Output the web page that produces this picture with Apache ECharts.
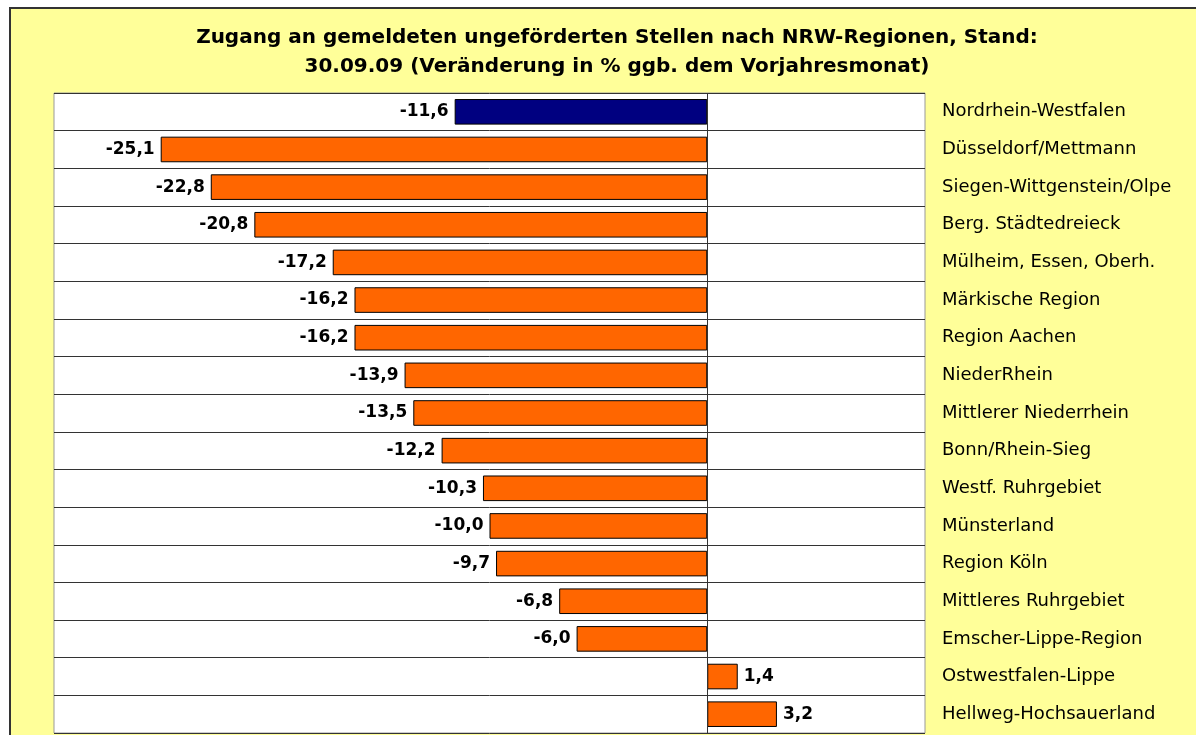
<!DOCTYPE html>
<html>
<head>
<meta charset="utf-8">
<script src="https://cdn.jsdelivr.net/npm/echarts@6/dist/echarts.min.js"></script>
<style>
    html, body { margin: 0; padding: 0; background: #fff; }
    #chart { width: 1196px; height: 735px; }
</style>
</head>
<body>
<div id="chart"></div>
<script>
// Regionen (von oben nach unten)
const regions = [
    'Nordrhein-Westfalen',
    'Düsseldorf/Mettmann',
    'Siegen-Wittgenstein/Olpe',
    'Berg. Städtedreieck',
    'Mülheim, Essen, Oberh.',
    'Märkische Region',
    'Region Aachen',
    'NiederRhein',
    'Mittlerer Niederrhein',
    'Bonn/Rhein-Sieg',
    'Westf. Ruhrgebiet',
    'Münsterland',
    'Region Köln',
    'Mittleres Ruhrgebiet',
    'Emscher-Lippe-Region',
    'Ostwestfalen-Lippe',
    'Hellweg-Hochsauerland'
];

// Veränderung in % ggb. Vorjahresmonat
const changes = [-11.6, -25.1, -22.8, -20.8, -17.2, -16.2, -16.2, -13.9, -13.5,
    -12.2, -10.3, -10.0, -9.7, -6.8, -6.0, 1.4, 3.2];

const titleText = 'Zugang an gemeldeten ungeförderten Stellen nach NRW-Regionen, Stand:\n30.09.09 (Veränderung in % ggb. dem Vorjahresmonat)';

const FONT = 'DejaVu Sans';

const chart = echarts.init(document.getElementById('chart'));

const barData = changes.map((v, i) => ({
    value: v,
    itemStyle: { color: i === 0 ? '#000080' : '#FF6600' },
    label: { position: v < 0 ? 'left' : 'right' }
}));

chart.setOption({
    backgroundColor: '#fff',
    animation: false,
    graphic: [{
        type: 'rect',
        z: -10,
        shape: { x: 10, y: 8, width: 1200, height: 740 },
        style: { fill: '#FFFF99', stroke: '#333', lineWidth: 2 }
    }],
    title: {
        text: titleText,
        left: 612,
        textAlign: 'center',
        top: 18,
        textStyle: {
            fontFamily: FONT,
            fontSize: 20,
            fontWeight: 'bold',
            color: '#000',
            lineHeight: 29
        }
    },
    grid: {
        left: 54,
        right: 271,
        top: 93,
        bottom: 2,
        show: true,
        backgroundColor: '#fff',
        borderColor: '#999',
        borderWidth: 1
    },
    xAxis: {
        type: 'value',
        min: -30,
        max: 10,
        interval: 10,
        show: false
    },
    yAxis: {
        type: 'category',
        data: regions,
        inverse: true,
        position: 'right',
        axisLine: { show: false },
        axisTick: { show: false },
        axisLabel: {
            margin: 17,
            color: '#000',
            fontFamily: FONT,
            fontSize: 18
        },
        splitLine: {
            show: true,
            lineStyle: { color: '#333', width: 1 }
        }
    },
    series: [{
        type: 'bar',
        data: barData,
        barWidth: '68%',
        itemStyle: { borderColor: '#000', borderWidth: 1 },
        label: {
            show: true,
            distance: 6,
            color: '#000',
            fontFamily: FONT,
            fontSize: 17,
            fontWeight: 'bold',
            formatter: p => p.value.toFixed(1).replace('.', ',')
        },
        markLine: {
            silent: true,
            symbol: 'none',
            label: { show: false },
            lineStyle: { color: '#333', type: 'solid', width: 1 },
            data: [{ xAxis: 0 }]
        }
    }]
});
</script>
</body>
</html>
